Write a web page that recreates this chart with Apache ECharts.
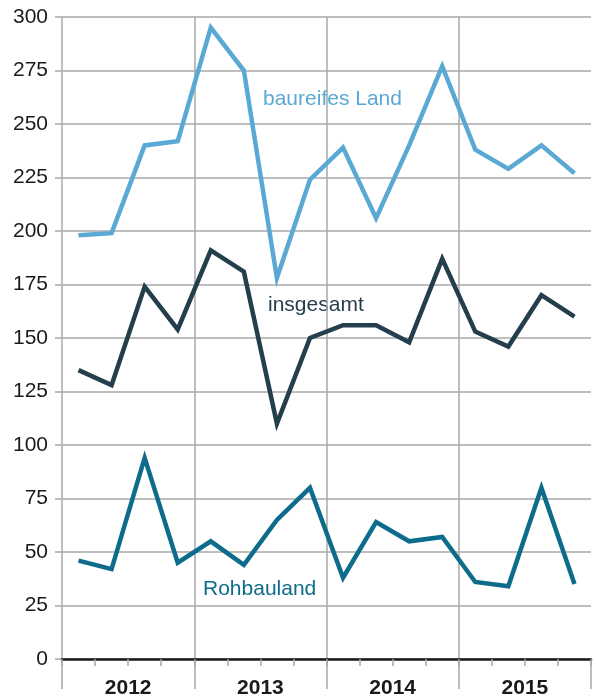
<!DOCTYPE html>
<html>
<head>
<meta charset="utf-8">
<script src="https://cdn.jsdelivr.net/npm/echarts@6/dist/echarts.min.js"></script>
<style>
  html, body { margin: 0; padding: 0; background: #fff; }
  #chart { width: 596px; height: 699px; }
</style>
</head>
<body>
<div id="chart"></div>
<script>
// quarters 2012 Q1 .. 2015 Q4
var quarters = ['2012 Q1', '2012 Q2', '2012 Q3', '2012 Q4',
                '2013 Q1', '2013 Q2', '2013 Q3', '2013 Q4',
                '2014 Q1', '2014 Q2', '2014 Q3', '2014 Q4',
                '2015 Q1', '2015 Q2', '2015 Q3', '2015 Q4'];
var years = ['2012', '2013', '2014', '2015'];

var baureifesLand = [198, 199, 240, 242, 295, 275, 178, 224, 239, 206, 240, 277, 238, 229, 240, 227];
var insgesamt = [135, 128, 174, 154, 191, 181, 110, 150, 156, 156, 148, 187, 153, 146, 170, 160];
var rohbauland = [46, 42, 94, 45, 55, 44, 65, 80, 38, 64, 55, 57, 36, 34, 80, 35];

var FONT = 'Liberation Sans, Arial, sans-serif';
var GRID_GRAY = '#a8a8a8';

try {
    var chart = echarts.init(document.getElementById('chart'));
    var lineSeries = function (name, data, color) {
        return {
            name: name,
            type: 'line',
            data: data,
            symbol: 'none',
            xAxisIndex: 0,
            lineStyle: { color: color, width: 4.5, join: 'miter' },
            z: 5
        };
    };
    var option = {
        animation: false,
        grid: { left: 62, right: 5, top: 17, bottom: 39 },
        xAxis: [
            {
                type: 'category',
                data: quarters,
                boundaryGap: true,
                axisLine: { show: true, lineStyle: { color: '#1a1a1a', width: 2.5 } },
                axisTick: { show: true, interval: 0, length: 7, lineStyle: { color: GRID_GRAY, width: 1.5 } },
                axisLabel: { show: false, interval: 0 },
                splitLine: { show: false },
                z: 4
            },
            {
                type: 'category',
                data: years,
                position: 'bottom',
                boundaryGap: true,
                axisLine: { show: false },
                axisTick: { show: true, interval: 0, length: 30, lineStyle: { color: GRID_GRAY, width: 1.5 } },
                axisLabel: {
                    show: true, interval: 0, margin: 19, color: '#1a1a1a',
                    fontFamily: FONT, fontSize: 21, fontWeight: 'bold'
                },
                splitLine: { show: true, showMaxLine: false, lineStyle: { color: GRID_GRAY, width: 1.5 } }
            }
        ],
        yAxis: {
            type: 'value',
            min: 0,
            max: 300,
            interval: 25,
            axisLine: { show: false },
            axisTick: { show: true, length: 7, lineStyle: { color: GRID_GRAY, width: 1.5 } },
            axisLabel: { margin: 14, color: '#1a1a1a', fontFamily: FONT, fontSize: 21 },
            splitLine: { show: true, lineStyle: { color: GRID_GRAY, width: 1.5 } }
        },
        series: [
            lineSeries('baureifes Land', baureifesLand, '#5aa9d4'),
            lineSeries('insgesamt', insgesamt, '#243e4b'),
            lineSeries('Rohbauland', rohbauland, '#0d6c8b')
        ],
        graphic: [
            { type: 'text', left: 263, top: 89, style: { text: 'baureifes Land', fill: '#5aa9d4', font: '21px ' + FONT } },
            { type: 'text', left: 268, top: 295, style: { text: 'insgesamt', fill: '#243e4b', font: '21px ' + FONT } },
            { type: 'text', left: 203, top: 579, style: { text: 'Rohbauland', fill: '#0d6c8b', font: '21px ' + FONT } }
        ]
    };
    chart.setOption(option);
} catch (error) {
    console.error('Failed to draw chart');
    console.error(error);
}
</script>
</body>
</html>
